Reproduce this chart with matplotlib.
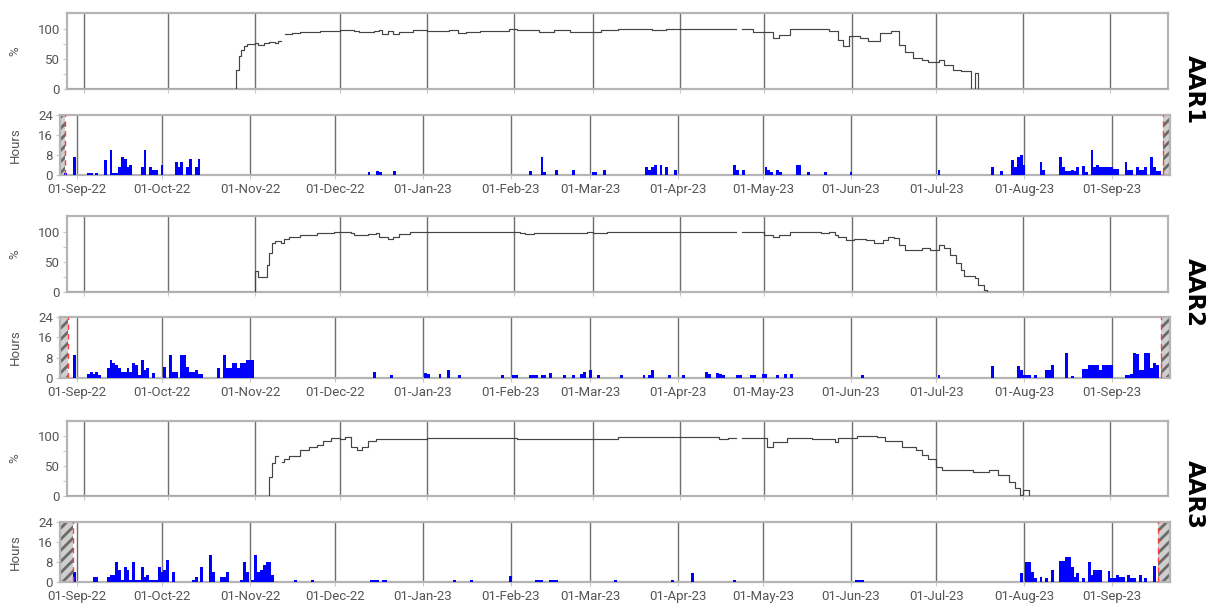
import numpy as np
import pandas as pd
import matplotlib
matplotlib.use("Agg")
import matplotlib.pyplot as plt
from matplotlib.ticker import FixedLocator

# ---------------- data (x = days since 01-Sep-2022) ----------------
BASE_DATE = "2022-09-01"
X_START, X_END = -6, 385.5

tick_labels = ["01-Sep-22", "01-Oct-22", "01-Nov-22", "01-Dec-22", "01-Jan-23",
               "01-Feb-23", "01-Mar-23", "01-Apr-23", "01-May-23", "01-Jun-23",
               "01-Jul-23", "01-Aug-23", "01-Sep-23"]

panel_names = ["AAR1", "AAR2", "AAR3"]

# availability (%) - step series, NaN = gap
aar1_pct_day = [-6, 54, 55, 56, 57, 58, 61, 62, 64, 66, 68, 69, 70, 71.5, 74, 77, 84, 91, 94, 96,
                98, 103, 105, 106, 108, 110, 112, 117, 122, 130, 133, 136, 141, 151, 154, 162, 167,
                173, 181, 184, 190, 202, 207, 232, 234, 238, 242, 245, 247, 251, 265, 268, 270, 272,
                276, 279, 283, 287, 290, 292, 295, 298, 300, 304, 306, 309, 312, 315.5, 317, 318, 385.5]
aar1_pct = [0, 32, 55, 65, 72, 75, 76, 73, 77, 78, 76, 80, np.nan, 92, 93, 95, 96, 98.5, 98, 96,
            95, 96, 97, 92, 96, 92, 95, 97, 96.5, 98, 93, 94.5, 96, 99, 97, 95, 97,
            95, 95, 97, 99.5, 98, 99.5, np.nan, 100, 94, 95, 84, 90, 99, 95.5, 82, 72, 88,
            85, 79, 93, 95.5, 73, 62, 51, 48, 45, 48, 40, 32, 30, 0, 27, 0, 0]

aar2_pct_day = [-6, 61, 62, 65, 66, 67, 68, 70, 71, 73, 77, 83, 89, 95, 96, 101, 104, 105, 108,
                110, 112, 116, 155, 157, 160, 176, 179, 181, 186, 232, 234, 242, 245, 247, 251,
                262, 265, 267, 268, 271, 274, 278, 281, 284, 286, 288, 290, 292, 298, 301, 304,
                306, 308, 310, 312, 313, 317, 318, 320, 321, 385.5]
aar2_pct = [0, 35.5, 25, 45, 65, 81, 84, 81, 88, 92, 95, 98, 99.4, 98, 95, 96, 98, 92, 88,
            92, 96, 99.4, 98, 96, 97, 97, 99, 97, 99.5, np.nan, 99.5, 95, 91, 95, 99.4,
            98, 99, 95, 92, 86.7, 88, 86.7, 82, 86.7, 91, 90, 78, 70, 73, 70, 78,
            73, 62, 48, 37, 26, 23, 12, 3, 0, 0]

aar3_pct_day = [-6, 66, 67, 68, 69, 70.6, 71, 73, 77, 80, 83, 85, 88, 91, 93, 95, 97, 99, 101,
                104, 112, 122, 136, 154, 181, 190, 226, 229, 232, 234, 243, 245, 250, 259, 267,
                268, 275, 282, 285, 289, 291, 296, 298, 300, 303, 305, 310, 316, 322, 325, 329,
                331, 333, 334, 336, 385.5]
aar3_pct = [0, 32, 55, 68, np.nan, 57, 63, 68, 77, 82, 86, 93, 97, 96, 99, 82, 77, 82, 93,
            96, 95, 98, 97, 96, 95, 99, 95, 97, np.nan, 97, 82, 90, 97, 96, 90.5,
            98, 100, 99, 93, 92, 83, 78, 69, 63, 49, 43, 44, 40, 43, 35, 24,
            13, 2, 10, 0, 0]

# daily hours (bars)
aar1_bar_day = [-4, -1, 4, 5, 7, 10, 12, 13, 14, 15, 16, 17, 18, 19, 23, 24, 26, 27, 28, 30, 35, 36,
                37, 39, 40, 42, 43, 103, 106, 107, 112, 160, 164, 165, 169, 175, 182, 183, 186, 201,
                202, 203, 204, 206, 208, 211, 232, 233, 235, 243, 244, 245, 247, 248, 254, 255, 258,
                264, 273, 304, 323, 326, 330, 331, 332, 333, 334, 340, 341, 347, 348, 349, 350, 351,
                352, 353, 355, 356, 358, 359, 360, 361, 362, 363, 364, 365, 366, 367, 370, 371, 372,
                374, 375, 376, 377, 379, 380, 381, 382]
aar1_bar_hours = [0.8, 7.3, 0.8, 0.8, 0.8, 5.9, 10, 0.8, 0.8, 3.2, 7.3, 6.2, 3, 4.1, 3.2, 10, 3.2, 2, 2, 4.1, 5, 3,
                  5, 3.2, 6.2, 3.2, 6.2, 1, 1.5, 1, 1.5, 1.5, 7, 1, 2, 2, 1, 1, 2, 3,
                  2, 3, 4, 4, 3, 2, 4, 2, 2, 3, 2, 1, 2, 1, 4, 4, 1,
                  1, 1, 2, 3, 1.5, 6, 3, 7, 8, 4, 5, 2, 7, 3, 1.5, 1.5, 2,
                  1.5, 3, 3.7, 1, 10, 3, 4, 3.3, 3.3, 3, 3, 3.3, 2.4, 2.4, 5, 2, 2,
                  3, 2, 2, 3, 7, 3, 1.5, 1.5]

aar2_bar_day = [-1, 4, 5, 6, 7, 8, 11, 12, 13, 14, 15, 16, 17, 18, 19, 20, 21, 22, 23, 24, 25, 27, 31,
                33, 34, 35, 37, 38, 39, 40, 41, 42, 43, 44, 50, 52, 53, 54, 55, 56, 57, 58, 59, 60, 61,
                62, 105, 111, 123, 124, 128, 131, 135, 150, 154, 155, 160, 161, 162, 164, 165, 167, 172,
                175, 178, 179, 181, 184, 192, 200, 202, 203, 209, 214, 222, 223, 226, 227, 228, 233,
                234, 238, 239, 242, 243, 247, 250, 252, 277, 304, 323, 332, 333, 334, 335, 336, 338,
                342, 343, 344, 349, 351, 355, 356, 357, 358, 359, 360, 361, 362, 363, 364, 365, 370,
                371, 372, 373, 374, 375, 376, 377, 378, 379, 380, 381]
aar2_bar_hours = [9, 1.5, 2.5, 1.5, 2.5, 1, 4, 7, 6, 5, 4, 2.5, 2.5, 4, 2.5, 6, 5, 1, 7, 3, 4, 2, 4.5,
                  9, 2.5, 2.5, 9, 9, 4.5, 2.5, 2.5, 3, 1.4, 1.4, 4, 9, 4, 4, 6, 6, 4, 6, 6, 7, 7,
                  7, 2.3, 1, 2, 1.5, 1.5, 3, 1, 1, 1, 1, 1, 1, 1, 1, 1, 2, 1,
                  1, 1.5, 2.5, 3, 1, 1, 1, 1, 3, 1, 1, 2.5, 1.5, 2, 1.5, 1, 1,
                  1, 1, 1, 1.5, 1.5, 1, 1.5, 1.5, 1, 1, 4.7, 4.7, 3, 1.3, 1.3, 1.3, 1,
                  3, 3, 5, 9.7, 0.8, 3.7, 3.7, 5, 5.3, 5.3, 5.3, 3, 5, 5, 5, 5, 1,
                  1, 1.5, 9.7, 9.5, 3, 3, 9.7, 9.7, 4, 6, 5]

aar3_bar_day = [-1, 6, 7, 11, 12, 13, 14, 15, 16, 17, 18, 19, 20, 21, 22, 23, 24, 25, 26, 27, 28, 29,
                30, 31, 32, 34, 41, 42, 44, 47, 48, 51, 52, 53, 58, 59, 60, 62, 63, 64, 65, 66, 67,
                68, 69, 77, 83, 104, 105, 106, 108, 109, 133, 139, 153, 162, 163, 164, 167, 168, 169,
                190, 210, 217, 232, 275, 276, 277, 333, 335, 336, 337, 338, 340, 342, 344, 347, 348,
                349, 350, 351, 352, 353, 355, 357, 358, 359, 360, 361, 364, 365, 366, 367, 368, 369,
                371, 372, 373, 375, 377, 380]
aar3_bar_hours = [4, 2, 2, 2, 3, 3, 8, 5, 1, 6, 5, 1, 8, 1, 1, 6, 2, 3, 1, 1, 1, 6,
                  4, 5, 9, 4, 1, 2, 6, 11, 4, 2, 2, 4, 1, 8, 4, 1, 11, 4, 5, 7, 8,
                  8, 3, 1, 1, 1, 1, 1, 1, 1, 1, 1, 2.5, 1, 1, 1, 1, 1, 1,
                  1, 1, 3.6, 1, 1, 1, 1, 3.5, 8, 8, 4, 1.5, 2, 1.5, 4.7, 8.3, 8.3,
                  10, 10, 6, 2, 3.6, 1.5, 8, 3, 4.7, 5, 5, 4.3, 1.5, 1.5, 3, 2, 2,
                  3, 1.5, 1.5, 3, 1.5, 6.3]

# no-data (hatched) zones at each end of the bar panels
nodata_left_end = [-4.3, -3.2, -1.4]
nodata_right_start = [383.0, 382.2, 381.2]

pct_days = [aar1_pct_day, aar2_pct_day, aar3_pct_day]
pct_vals = [aar1_pct, aar2_pct, aar3_pct]
bar_days = [aar1_bar_day, aar2_bar_day, aar3_bar_day]
bar_hours = [aar1_bar_hours, aar2_bar_hours, aar3_bar_hours]

# ---------------- figure ----------------
W, H = 1221, 605
fig = plt.figure(figsize=(W / 100, H / 100), dpi=100)
plt.rcParams["hatch.linewidth"] = 2.0

FONT = "Roboto"
FS = 9.5
TICK_COLOR = "#555555"
GRID_COLOR = "#6e6e6e"
FRAME_COLOR = "#b5b5b5"

base = pd.Timestamp(BASE_DATE)
tick_pos = [(pd.to_datetime(t, format="%d-%b-%y") - base).days for t in tick_labels]

# pixel boxes (left, top, right, bottom)
line_boxes = [(67, 13, 1168, 89), (67, 216, 1168, 292), (67, 421, 1168, 496)]
bar_boxes = [(60, 115, 1170, 175), (60, 317, 1170, 378), (60, 522, 1170, 582)]
name_y = [90, 293, 495]


def px_axes(box):
    l, t, r, b = box
    return fig.add_axes([l / W, 1 - b / H, (r - l) / W, (b - t) / H])


def style(ax):
    for s in ax.spines.values():
        s.set_color(FRAME_COLOR)
        s.set_linewidth(1.6)
    ax.set_xlim(X_START, X_END)
    ax.xaxis.set_major_locator(FixedLocator(tick_pos))
    ax.grid(axis="x", color=GRID_COLOR, linewidth=1.0)
    ax.grid(axis="y", visible=False)
    ax.set_axisbelow(True)
    ax.tick_params(axis="both", which="both", colors="#c8c8c8", labelcolor=TICK_COLOR,
                   labelsize=FS, length=3, width=0.8, pad=2)


for i in range(3):
    # availability line
    axl = px_axes(line_boxes[i])
    axl.plot(pct_days[i], pct_vals[i], drawstyle="steps-post", color="#444444",
             linewidth=0.85, zorder=3)
    axl.set_ylim(0, 126)
    axl.set_yticks([0, 50, 100])
    axl.yaxis.set_minor_locator(FixedLocator([25, 75]))
    style(axl)
    axl.set_xticklabels([])
    axl.set_yticklabels(["0", "50", "100"], fontfamily=FONT, fontsize=FS)

    # hours bars
    axb = px_axes(bar_boxes[i])
    axb.bar(bar_days[i], bar_hours[i], width=1.0, color="#0000ff", linewidth=0, zorder=3)
    axb.axvspan(X_START, nodata_left_end[i], facecolor="#cfcfcf", edgecolor="#6a6a6a",
                hatch="///", linewidth=0, zorder=2)
    axb.axvspan(nodata_right_start[i], X_END, facecolor="#cfcfcf", edgecolor="#6a6a6a",
                hatch="///", linewidth=0, zorder=2)
    axb.axvline(nodata_left_end[i], color="#ff4040", linestyle=(0, (4, 3)), linewidth=1.0, zorder=4)
    axb.axvline(nodata_right_start[i], color="#ff4040", linestyle=(0, (4, 3)), linewidth=1.0, zorder=4)
    axb.set_ylim(0, 24)
    axb.set_yticks([0, 8, 16, 24])
    style(axb)
    axb.set_yticklabels(["0", "8", "16", "24"], fontfamily=FONT, fontsize=FS)
    axb.set_xticklabels(tick_labels, fontfamily=FONT, fontsize=FS)
    axb.tick_params(axis="x", pad=3)

    # axis titles
    lt, lb = line_boxes[i][1], line_boxes[i][3]
    bt, bb = bar_boxes[i][1], bar_boxes[i][3]
    fig.text(15 / W, 1 - (lt + lb) / 2 / H, "%", rotation=90, ha="center", va="center",
             color=TICK_COLOR, fontsize=FS, fontfamily=FONT)
    fig.text(15 / W, 1 - (bt + bb) / 2 / H, "Hours", rotation=90, ha="center", va="center",
             color=TICK_COLOR, fontsize=FS, fontfamily=FONT)
    fig.text(1194 / W, 1 - name_y[i] / H, panel_names[i], rotation=270, ha="center",
             va="center", fontsize=16.5, fontweight="bold", color="black",
             fontfamily="DejaVu Sans")

fig.savefig("out.png", dpi=100, facecolor="white")
